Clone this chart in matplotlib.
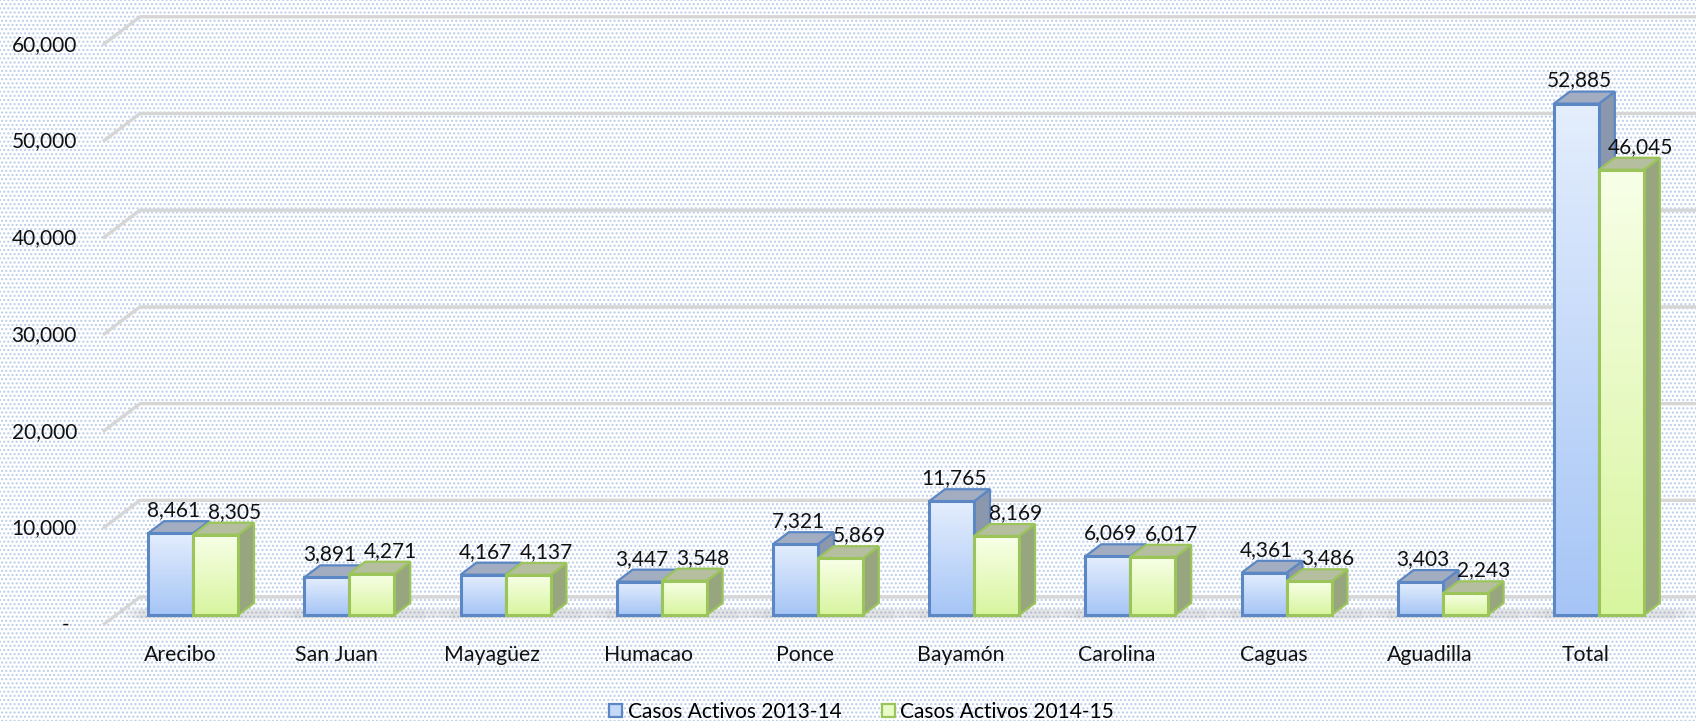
import numpy as np
import matplotlib
matplotlib.use("Agg")
import matplotlib.pyplot as plt
from matplotlib.patches import Polygon, Rectangle, Patch
from matplotlib.colors import LinearSegmentedColormap

# datos
regiones = ["Arecibo", "San Juan", "Mayagüez", "Humacao", "Ponce", "Bayamón",
            "Carolina", "Caguas", "Aguadilla", "Total"]
casos_1314 = [8461, 3891, 4167, 3447, 7321, 11765, 6069, 4361, 3403, 52885]
casos_1415 = [8305, 4271, 4137, 3548, 5869, 8169, 6017, 3486, 2243, 46045]
series = ["Casos Activos 2013-14", "Casos Activos 2014-15"]
yticks = [0, 10000, 20000, 30000, 40000, 50000, 60000]

plt.rcParams['font.family'] = ['Lato', 'DejaVu Sans']

# geometria del efecto 3D (en unidades de datos)
DX = 0.237      # desplazamiento x de la pared trasera
DY = 2896       # desplazamiento y de la pared trasera
Z0, Z1 = 0.357, 0.786   # profundidad de las barras
W = 0.288       # ancho de cada barra
WALL_X = -0.493
XMIN, XMAX = -1.152, 9.706
YMIN, YMAX = -9928, 64633

fig = plt.figure(figsize=(16.96, 7.21), dpi=100)
fig.patch.set_facecolor('white')
bg = Rectangle((0, 0), 1, 1, transform=fig.transFigure, facecolor='white',
               edgecolor='#bccde9', hatch='....', linewidth=0, zorder=-10)
fig.patches.append(bg)

ax = fig.add_axes([0, 0, 1, 1])
ax.set_facecolor('none')
ax.axis('off')

# lineas de cuadricula (pared trasera + diagonal del piso)
for v in yticks:
    ax.plot([WALL_X, WALL_X + DX, XMAX + 1], [v, v + DY, v + DY],
            color='#d6d6d6', lw=2.4, solid_capstyle='butt', zorder=1)
    lab = "-" if v == 0 else f"{v:,}"
    xt = -0.71 if v == 0 else -0.659
    ax.text(xt, v, lab, ha='right', va='center', fontsize=15, color='#111111')

for i, r in enumerate(regiones):
    ax.text(i, -3150, r, ha='center', va='center', fontsize=15.3, color='#111111')

cmap_b = LinearSegmentedColormap.from_list('b', ['#a6c5f6', '#e4eefd'])
cmap_g = LinearSegmentedColormap.from_list('g', ['#d8f59f', '#f8ffe8'])
grad = np.linspace(0, 1, 128).reshape(-1, 1)

# (valores, desplazamiento, mapa, borde, tapa, lado, desplazamiento etiqueta)
specs = [
    (casos_1314, -W, cmap_b, '#5b87c5', '#a2adc2', '#8b97ad', 0.017),
    (casos_1415, 0, cmap_g, '#9bc55a', '#b6bea0', '#97a67e', 0.12),
]

dxb = (Z1 - Z0) * DX
dyb = (Z1 - Z0) * DY
base = Z0 * DY

for i in range(len(regiones)):
    xc = i + Z0 * DX
    # sombra bajo el grupo
    for k, a in enumerate([0.04, 0.05, 0.06, 0.07]):
        e = 0.18 - k * 0.04
        sh = Polygon([(xc - W - e, base - 300 - k * 60), (xc + W + dxb + e * 1.6, base - 300 - k * 60),
                      (xc + W + dxb + e * 1.6, base + dyb * 0.5), (xc - W - e, base + dyb * 0.5)],
                     closed=True, facecolor='#7f7f7f', edgecolor='none', alpha=a, zorder=2)
        ax.add_patch(sh)
    for vals, off, cm, ec, topc, sidec, loff in specs:
        v = vals[i]
        x0 = xc + off
        x1 = x0 + W
        y0 = base
        y1 = base + v
        z = 3 + i * 0.1 + (0.02 if off == 0 else 0)
        side = Polygon([(x1, y0), (x1 + dxb, y0 + dyb), (x1 + dxb, y1 + dyb), (x1, y1)],
                       closed=True, facecolor=sidec, edgecolor=ec, lw=1.6, zorder=z)
        top = Polygon([(x0, y1), (x1, y1), (x1 + dxb, y1 + dyb), (x0 + dxb, y1 + dyb)],
                      closed=True, facecolor=topc, edgecolor=ec, lw=1.6, zorder=z)
        ax.add_patch(side)
        ax.add_patch(top)
        ax.imshow(grad, extent=[x0, x1, y0, y1], origin='lower', aspect='auto',
                  cmap=cm, zorder=z + 0.005)
        front = Rectangle((x0, y0), W, v, facecolor='none', edgecolor=ec, lw=2.2,
                          zorder=z + 0.008)
        ax.add_patch(front)
        ax.text(x0 + W / 2 + loff, y1 + dyb + 520, f"{v:,}", ha='center', va='baseline',
                fontsize=15, color='#111111', zorder=10)

ax.set_xlim(XMIN, XMAX)
ax.set_ylim(YMIN, YMAX)

handles = [Patch(facecolor='#c4d8f8', edgecolor='#5b87c5', lw=1.6),
           Patch(facecolor='#e9fbc6', edgecolor='#9bc55a', lw=1.6)]
fig.legend(handles, series, loc='center', bbox_to_anchor=(0.508, 1 - 712 / 721),
           ncol=2, frameon=False, fontsize=15, handlelength=0.62, handleheight=0.62,
           handletextpad=0.25, columnspacing=1.95)

fig.savefig("out.png", dpi=100)
